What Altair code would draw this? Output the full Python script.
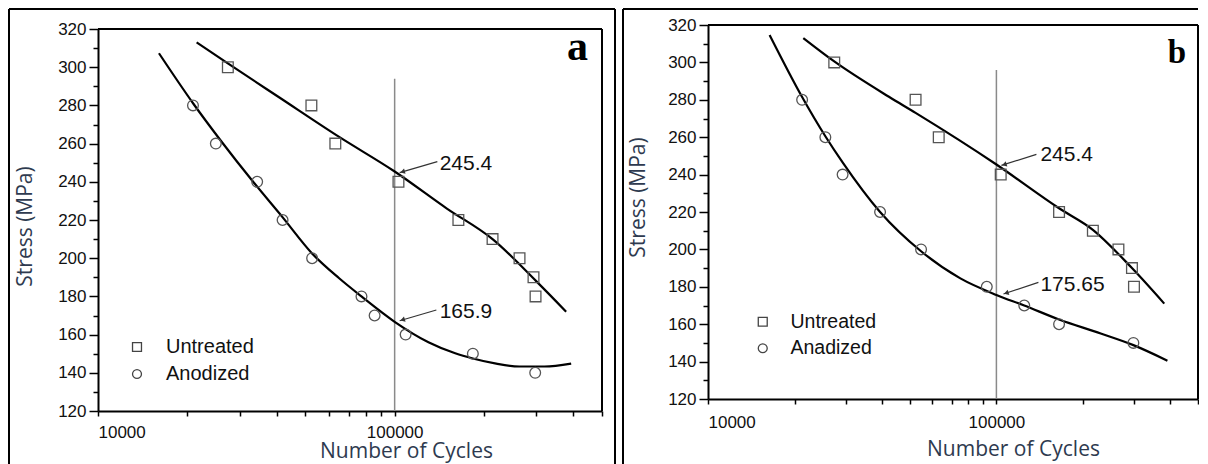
import altair as alt
import pandas as pd

# ---------------- data ----------------
# Panel a
A_UNT_X = [27400, 52400, 63100, 103000, 164000, 213800, 263600, 293800, 298500]
A_UNT_Y = [300, 280, 260, 240, 220, 210, 200, 190, 180]
A_ANO_X = [20900, 24960, 34400, 41900, 52700, 77300, 85600, 108900, 183500, 297700]
A_ANO_Y = [280, 260, 240, 220, 200, 180, 170, 160, 150, 140]
A_UNT_FIT_X = [21500, 27400, 41000, 65000, 100000, 150000, 213800, 300000, 378500]
A_UNT_FIT_Y = [313, 302, 284, 263.5, 245.4, 226, 210, 188, 172]
A_ANO_FIT_X = [16050, 20940, 25950, 33340, 41870, 52670, 65000, 77270, 100000,
               130000, 160000, 183500, 220000, 263600, 320000, 393600]
A_ANO_FIT_Y = [307.3, 281.0, 261.5, 240.0, 221.5, 202.5, 189.5, 180.0, 166.7,
               156.0, 150.2, 147.5, 144.8, 143.3, 143.3, 144.8]
A_NAMES = ["Untreated", "Anodized"]
A_ANN_VAL = [245.4, 165.9]
A_ANN_TXT = ["245.4", "165.9"]
A_VLINE_TOP = 294

# Panel b
B_UNT_X = [27400, 52450, 63100, 103500, 164900, 216000, 264900, 295100, 299900]
B_UNT_Y = [300, 280, 260, 240, 220, 210, 200, 190, 180]
B_ANO_X = [21200, 25520, 29290, 39500, 54800, 92600, 124900, 164900, 298500]
B_ANO_Y = [280, 260, 240, 220, 200, 180, 170, 160, 150]
B_UNT_FIT_X = [21400, 27400, 42400, 52450, 100000, 164900, 216000, 295100, 381900]
B_UNT_FIT_Y = [313, 300.5, 281.6, 273, 245.4, 222, 210.5, 190, 171]
B_ANO_FIT_X = [16360, 21200, 25520, 29290, 39500, 54800, 75000, 100000, 124900,
               164900, 230000, 298500, 391700]
B_ANO_FIT_Y = [314.6, 281.5, 260.5, 246.5, 220, 199, 184.5, 175.65, 170, 162.5, 155, 148.8, 140.5]
B_NAMES = ["Untreated", "Anadized"]
B_ANN_VAL = [245.4, 175.65]
B_ANN_TXT = ["245.4", "175.65"]
B_VLINE_TOP = 296

VLINE_X = 100000
X_TICKS = [10000, 20000, 30000, 40000, 50000, 60000, 70000, 80000, 90000,
           100000, 200000, 300000, 400000, 500000]
Y_TICKS = list(range(120, 321, 10))

FONT = "Liberation Sans"
TFONT = "Open Sans"
TCOLOR = "#2e3a4f"


def panel(w, h, top, unt_x, unt_y, ano_x, ano_y, fu_x, fu_y, fa_x, fa_y, names,
          ann_val, ann_txt, ann_geo, vtop, letter, g):
    xs = alt.Scale(type="log", domain=[10000, 500000], nice=False)
    ys = alt.Scale(domain=[120, 320], nice=False, zero=False, range=[h, top])
    xaxis = alt.Axis(
        values=X_TICKS,
        labelExpr="datum.value == 10000 || datum.value == 100000 ? format(datum.value, 'd') : ''",
        tickSize=5, labelBaseline="alphabetic", labelPadding=g["xlp"],
        labelFontSize=17, labelFont=FONT, labelColor="#111",
        titleX=g["xtx"], titleY=g["xty"], titleBaseline="alphabetic", titleAlign="center",
        titleFont=TFONT, titleFontSize=21, titleFontWeight="normal", titleColor=TCOLOR,
        grid=False, domainColor="black", domainWidth=2, tickColor="black", tickWidth=1.5,
    )
    yaxis = alt.Axis(
        values=Y_TICKS,
        labelExpr="datum.value % 20 == 0 ? datum.label : ''",
        tickSize={"condition": {"test": "datum.value % 20 == 0", "value": 9}, "value": 5},
        labelPadding=g["ylp"], labelFontSize=17, labelFont=FONT, labelColor="#111",
        titleX=g["ytx"], titleY=g["yty"], titleAngle=270, titleBaseline="middle",
        titleAlign="center",
        titleFont=TFONT, titleFontSize=21, titleFontWeight="normal", titleColor=TCOLOR,
        grid=False, domainColor="black", domainWidth=2, tickColor="black", tickWidth=1.5,
    )
    X = alt.X("cycles:Q", scale=xs, axis=xaxis, title="Number of Cycles")
    Y = alt.Y("stress:Q", scale=ys, axis=yaxis, title="Stress (MPa)")

    pts = pd.DataFrame({
        "cycles": unt_x + ano_x,
        "stress": unt_y + ano_y,
        "series": [names[0]] * len(unt_x) + [names[1]] * len(ano_x),
    })
    fits = pd.DataFrame({
        "cycles": fu_x + fa_x,
        "stress": fu_y + fa_y,
        "series": [names[0]] * len(fu_x) + [names[1]] * len(fa_x),
    })

    vline = alt.Chart(pd.DataFrame({"cycles": [VLINE_X], "stress": [vtop], "low": [120]})).mark_rule(
        color="#8a8a8a", strokeWidth=1.5).encode(x=X, y=Y, y2="low:Q")

    lines = alt.Chart(fits).mark_line(color="black", strokeWidth=2.2, interpolate="monotone").encode(
        x=X, y=Y, detail="series:N")

    points = alt.Chart(pts).mark_point(filled=False, color="#555", strokeWidth=1.3, size=115, opacity=1).encode(
        x=X, y=Y,
        shape=alt.Shape("series:N", scale=alt.Scale(domain=names, range=["square", "circle"]),
                        legend=alt.Legend(title=None, orient="none", legendX=g["lx"], legendY=g["ly"],
                                          padding=0, labelFont=FONT, labelFontSize=g["lfs"],
                                          labelColor="#111", symbolSize=80, symbolStrokeColor="#444",
                                          symbolFillColor="transparent", symbolStrokeWidth=1.3,
                                          rowPadding=g["lrp"], labelOffset=g["lo"])),
    )

    one = pd.DataFrame({"t": [letter]})
    # plot-area box: top and right edges (left/bottom are the axis lines)
    box_top = alt.Chart(one).mark_rule(color="black", strokeWidth=2).encode(
        x=alt.value(0), x2=alt.value(w), y=alt.value(top))
    box_right = alt.Chart(one).mark_rule(color="black", strokeWidth=2).encode(
        x=alt.value(w), y=alt.value(top), y2=alt.value(h))

    layers = [vline, lines, points, box_top, box_right]
    for val, txt, geo in zip(ann_val, ann_txt, ann_geo):
        d = pd.DataFrame({"cycles": [VLINE_X], "stress": [val], "label": [txt]})
        dx, dy, tip, tail, ang = geo
        layers.append(alt.Chart(d).mark_text(align="left", baseline="alphabetic", dx=dx, dy=dy,
                                             fontSize=21, font=FONT, color="#111").encode(
            x=X, y=Y, text="label:N"))
        layers.append(alt.Chart(d).mark_rule(color="#333", strokeWidth=1.2,
                                             xOffset=tip[0], yOffset=tip[1],
                                             x2Offset=tail[0], y2Offset=tail[1]).encode(
            x=X, y=Y, x2="cycles:Q", y2="stress:Q"))
        ux = tail[0] - tip[0]
        uy = tail[1] - tip[1]
        n = (ux * ux + uy * uy) ** 0.5
        layers.append(alt.Chart(d).mark_point(shape="triangle-left", filled=True, color="#333",
                                              size=30, opacity=1, angle=ang,
                                              xOffset=tip[0] + 3 * ux / n,
                                              yOffset=tip[1] + 3 * uy / n).encode(x=X, y=Y))

    layers.append(alt.Chart(one).mark_text(font="Liberation Serif", fontWeight="bold",
                                           fontSize=g["lfsz"], align="right", baseline="alphabetic",
                                           color="black").encode(
        text="t:N", x=alt.value(g["ltx"]), y=alt.value(g["lty"])))

    # outer panel frame (decoration)
    fr = g["frame"]
    layers.append(alt.Chart(one).mark_rule(color="black", strokeWidth=2).encode(
        x=alt.value(fr[0]), y=alt.value(fr[1]), y2=alt.value(fr[3])))
    layers.append(alt.Chart(one).mark_rule(color="black", strokeWidth=2).encode(
        x=alt.value(fr[0]), x2=alt.value(fr[2]), y=alt.value(fr[1])))
    if fr[4]:
        layers.append(alt.Chart(one).mark_rule(color="black", strokeWidth=2).encode(
            x=alt.value(fr[2]), y=alt.value(fr[1]), y2=alt.value(fr[3])))

    return alt.layer(*layers).properties(width=w, height=h)


ga = dict(xlp=21, xtx=308, xty=46.5, ylp=3, ytx=-73, yty=201, lx=29, ly=312, lfs=20, lrp=7, lo=19,
          lfsz=42, ltx=490, lty=35, frame=(-89, -16, 517, 445, True))
gb = dict(xlp=23, xtx=305, xty=56.5, ylp=3, ytx=-70, yty=172, lx=45, ly=287, lfs=19.5, lrp=5.5, lo=18,
          lfsz=33, ltx=478, lty=38, frame=(-85, -16, 490, 445, False))

geo_a = [(45, -1.5, (5, 1.2), (42.7, -9.8), 344), (45, -5.5, (5, -2.6), (41.7, -13.3), 343)]
geo_b = [(44, -4, (5, 0.9), (40, -10.1), 343), (44, -4.2, (7, -0.9), (42, -12.5), 342)]

pa = panel(504, 386, 4, A_UNT_X, A_UNT_Y, A_ANO_X, A_ANO_Y, A_UNT_FIT_X, A_UNT_FIT_Y,
           A_ANO_FIT_X, A_ANO_FIT_Y, A_NAMES, A_ANN_VAL, A_ANN_TXT, geo_a, A_VLINE_TOP, "a", ga)
pb = panel(490, 374, 0, B_UNT_X, B_UNT_Y, B_ANO_X, B_ANO_Y, B_UNT_FIT_X, B_UNT_FIT_Y,
           B_ANO_FIT_X, B_ANO_FIT_Y, B_NAMES, B_ANN_VAL, B_ANN_TXT, geo_b, B_VLINE_TOP, "b", gb)

chart = alt.hconcat(pa, pb, spacing=6).resolve_scale(
    x="independent", y="independent", shape="independent"
).resolve_legend(shape="independent").properties(
    padding={"left": 0, "top": 0, "right": 0, "bottom": 0}, background="white"
).configure_view(stroke="transparent", strokeWidth=0)

chart.save("out.html", embed_options={"renderer": "svg", "actions": False})
